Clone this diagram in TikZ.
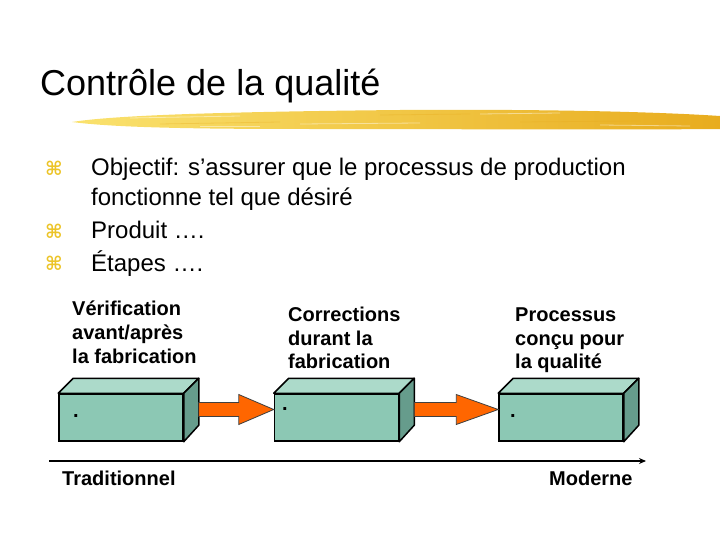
\documentclass[tikz,border=0pt]{standalone}
\usepackage{fontspec}
\setmainfont{Liberation Sans}
\newfontfamily\symfont{DejaVu Sans}
\usetikzlibrary{arrows.meta,calc}
\definecolor{boxfront}{RGB}{140,200,180}
\definecolor{boxtop}{RGB}{172,218,202}
\definecolor{boxside}{RGB}{102,156,140}
\definecolor{arroworange}{RGB}{255,102,0}
\definecolor{bulletyellow}{RGB}{236,196,40}
\definecolor{brushA}{RGB}{250,226,110}
\definecolor{brushB}{RGB}{244,200,50}
\definecolor{brushC}{RGB}{232,172,30}
\newcommand\blockarrowdraw[3]{%
  \path let \p1=([xshift=15pt,yshift=8pt]#1.east), \p2=([yshift=8pt]#2.west) in
    [blockarr] (\x1,\y1+7pt) -- (\x2-#3,\y1+7pt) -- (\x2-#3,\y1+15pt) -- (\x2,\y2)
    -- (\x2-#3,\y1-15pt) -- (\x2-#3,\y1-7pt) -- (\x1,\y1-7pt) -- cycle;}
\begin{document}
\begin{tikzpicture}[x=1pt,y=-1pt,
  frontface/.style={draw=black, line width=1.5pt, fill=boxfront, minimum width=124pt, minimum height=47pt, inner sep=0pt},
  topface/.style={draw=black, line width=1.5pt, fill=boxtop, line join=round},
  sideface/.style={draw=black, line width=1.5pt, fill=boxside, line join=round},
  lbl/.style={anchor=base west, inner sep=0pt, font=\fontsize{20}{24}\selectfont\bfseries},
  bul/.style={anchor=base west, inner sep=0pt, font=\fontsize{24}{29}\selectfont},
  bulletsym/.style={text=bulletyellow, inner sep=0pt, font=\symfont\fontsize{19}{22}\selectfont\bfseries},
  dotlbl/.style={anchor=base west, inner sep=0pt, font=\fontsize{20}{24}\selectfont\bfseries},
  blockarr/.style={fill=arroworange, draw=black!75, line width=0.8pt, line join=miter},
  timeline/.style={line width=1.6pt, -{Stealth[length=7pt,width=6pt]}}]
\useasboundingbox (0,0) rectangle (720,540);

% title
\node[anchor=base west, inner sep=0pt, font=\fontsize{36}{43}\selectfont] (title) at (40,96) {Contrôle de la qualité};

% brush stroke
\shade[left color=brushA, middle color=brushB, right color=brushC]
  (72,122) .. controls (110,116) and (200,112) .. (400,110)
  .. controls (550,109) and (660,112) .. (720,116)
  -- (720,129) .. controls (600,130) and (450,129) .. (300,129)
  .. controls (180,129) and (110,127) .. (72,122) -- cycle;
\begin{scope}[line width=0.8pt, opacity=0.45, white]
  \draw (130,118) -- (240,116);
  \draw (300,124) -- (420,123);
  \draw (480,114) -- (560,113);
  \draw (600,125) -- (690,126);
  \draw (200,126) -- (260,126);
\end{scope}
\begin{scope}[line width=0.8pt, opacity=0.35, brushC]
  \draw (160,124) -- (280,122);
  \draw (380,115) -- (470,114);
  \draw (520,122) -- (640,121);
\end{scope}

% bullets
\node[bulletsym] (s1) at (54,168) {⌘};
\node[bulletsym] (s2) at (54,231) {⌘};
\node[bulletsym] (s3) at (54,263) {⌘};
\node[bul] (t1) at (91,176) {Objectif: s’assurer que le processus de production};
\node[bul] (t1b) at (91,206) {fonctionne tel que désiré};
\node[bul] (t2) at (91,239) {Produit ….};
\node[bul] (t3) at (91,271) {Étapes ….};

% labels
\node[lbl] (a1) at (72,315) {Vérification};
\node[lbl] (a2) at (72,339) {avant/après};
\node[lbl] (a3) at (72,363) {la fabrication};
\node[lbl] (b1) at (288,321) {Corrections};
\node[lbl] (b2) at (288,345) {durant la};
\node[lbl] (b3) at (288,368) {fabrication};
\node[lbl] (c1) at (515,321) {Processus};
\node[lbl] (c2) at (515,345) {conçu pour};
\node[lbl] (c3) at (515,368) {la qualité};

% boxes
\foreach \n/\cx in {f1/121, f2/336.5, f3/561} {
  \node[frontface] (\n) at (\cx,417.5) {};
  \draw[topface] (\n.north west) -- ++(15,-15) -- ([shift={(15,-15)}]\n.north east) -- (\n.north east) -- cycle;
  \draw[sideface] (\n.north east) -- ++(15,-15) -- ++(0,47) -- (\n.south east) -- cycle;
}
\node[dotlbl] (d1) at (73,417) {.};
\node[dotlbl] (d2) at (282,410) {.};
\node[dotlbl] (d3) at (510,417) {.};

% block arrows
\blockarrowdraw{f1}{f2}{35pt}
\blockarrowdraw{f2}{f3}{42pt}

% timeline
\coordinate (tl0) at (49,461);
\coordinate (tl1) at (646,461);
\draw[timeline] (tl0) -- (tl1);
\node[lbl] (trad) at (62,485) {Traditionnel};
\node[lbl] (mod) at (549,485) {Moderne};
\end{tikzpicture}
\end{document}
